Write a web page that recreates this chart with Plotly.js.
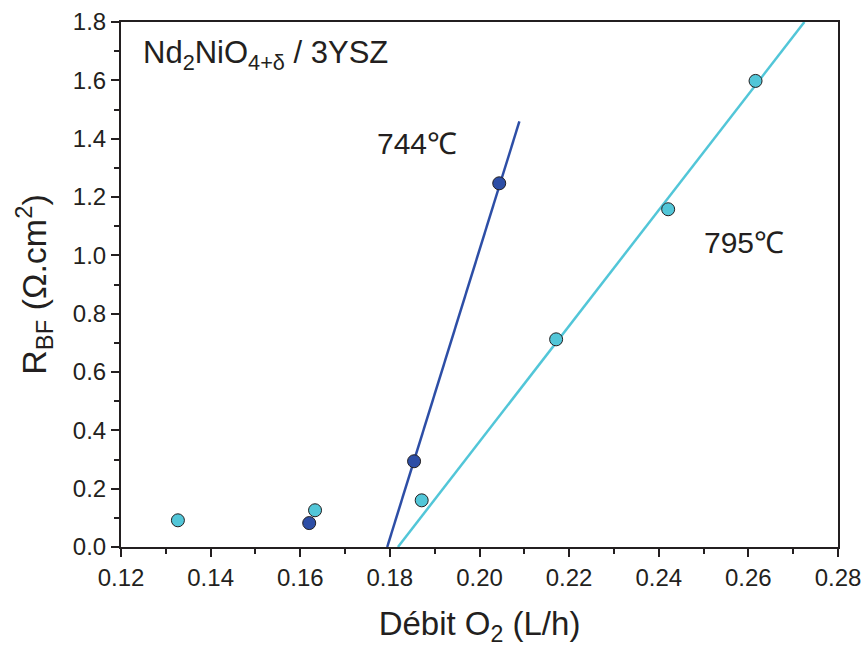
<!DOCTYPE html>
<html>
<head>
<meta charset="utf-8">
<script src="https://cdn.plot.ly/plotly-3.0.1.min.js"></script>
<style>html,body{margin:0;padding:0;background:#fff;}#chart{width:864px;height:647px;}</style>
</head>
<body>
<div id="chart"></div>
<script>
// Data
const blueX = [0.162, 0.1854, 0.2044];           // 744 °C
const blueY = [0.082, 0.294, 1.247];
const cyanX = [0.1327, 0.1633, 0.1871, 0.2171, 0.2421, 0.2616]; // 795 °C
const cyanY = [0.0915, 0.126, 0.160, 0.712, 1.158, 1.598];
const blueFitX = [0.1794, 0.2089];
const blueFitY = [0, 1.459];
const cyanFitX = [0.1818, 0.2725];
const cyanFitY = [0, 1.8];
const labels = ["Nd<sub>2</sub>NiO<sub>4+δ</sub> / 3YSZ", "744℃", "795℃"];

const BLUE = '#2d4ea6';
const CYAN = '#52c6d8';
const DARK = '#231f20';
const FONT = '"Liberation Sans", Arial, sans-serif';

const traces = [
  {x: blueFitX, y: blueFitY, mode: 'lines', line: {color: BLUE, width: 2.5}, showlegend: false, hoverinfo: 'skip'},
  {x: cyanFitX, y: cyanFitY, mode: 'lines', line: {color: CYAN, width: 2.5}, showlegend: false, hoverinfo: 'skip'},
  {x: blueX, y: blueY, mode: 'markers', marker: {color: BLUE, size: 13, line: {color: DARK, width: 1}}, showlegend: false},
  {x: cyanX, y: cyanY, mode: 'markers', marker: {color: CYAN, size: 13, line: {color: DARK, width: 1}}, showlegend: false}
];

const layout = {
  width: 864, height: 647,
  margin: {l: 121, r: 26, t: 22, b: 100},
  paper_bgcolor: '#fff', plot_bgcolor: '#fff',
  font: {family: FONT, color: DARK},
  xaxis: {
    range: [0.12, 0.28], dtick: 0.02, tickformat: '.2f',
    showgrid: false, zeroline: false,
    showline: true, linewidth: 2, linecolor: DARK, mirror: true,
    ticks: 'outside', ticklen: 8, tickwidth: 2, tickcolor: DARK,
    minor: {dtick: 0.01, ticks: 'outside', ticklen: 5, tickwidth: 2, tickcolor: DARK},
    tickfont: {size: 24, family: FONT, color: DARK},
    title: {text: 'Débit O<sub>2</sub> (L/h)', font: {size: 33, family: FONT, color: DARK}, standoff: 22}
  },
  yaxis: {
    range: [0, 1.8], dtick: 0.2, tickformat: '.1f',
    showgrid: false, zeroline: false,
    showline: true, linewidth: 2, linecolor: DARK, mirror: true,
    ticks: 'outside', ticklen: 8, tickwidth: 2, tickcolor: DARK,
    minor: {dtick: 0.1, ticks: 'outside', ticklen: 5, tickwidth: 2, tickcolor: DARK},
    tickfont: {size: 24, family: FONT, color: DARK},
    title: {text: 'R<sub>BF</sub> (Ω.cm<sup>2</sup>)', font: {size: 34, family: FONT, color: DARK}, standoff: 16}
  },
  xaxis2: {
    overlaying: 'x', side: 'top', anchor: 'y', matches: 'x', range: [0.12, 0.28], dtick: 0.01,
    showticklabels: false, showgrid: false, zeroline: false,
    ticks: 'inside', ticklen: 3, tickwidth: 1.5, tickcolor: DARK
  },
  yaxis2: {
    overlaying: 'y', side: 'right', anchor: 'x', range: [0, 1.8], dtick: 0.1,
    showticklabels: false, showgrid: false, zeroline: false,
    ticks: 'inside', ticklen: 3, tickwidth: 1.5, tickcolor: DARK
  },
  annotations: [
    {x: 0.1245, y: 1.686, xref: 'x', yref: 'y', text: labels[0], showarrow: false, xanchor: 'left', yanchor: 'middle',
     font: {size: 31, family: FONT, color: DARK}},
    {x: 0.1861, y: 1.382, xref: 'x', yref: 'y', text: labels[1], showarrow: false, xanchor: 'center', yanchor: 'middle',
     font: {size: 30, family: FONT, color: DARK}},
    {x: 0.259, y: 1.043, xref: 'x', yref: 'y', text: labels[2], showarrow: false, xanchor: 'center', yanchor: 'middle',
     font: {size: 30, family: FONT, color: DARK}}
  ]
};

Plotly.newPlot('chart', traces, layout, {displayModeBar: false, staticPlot: true});
</script>
</body>
</html>
